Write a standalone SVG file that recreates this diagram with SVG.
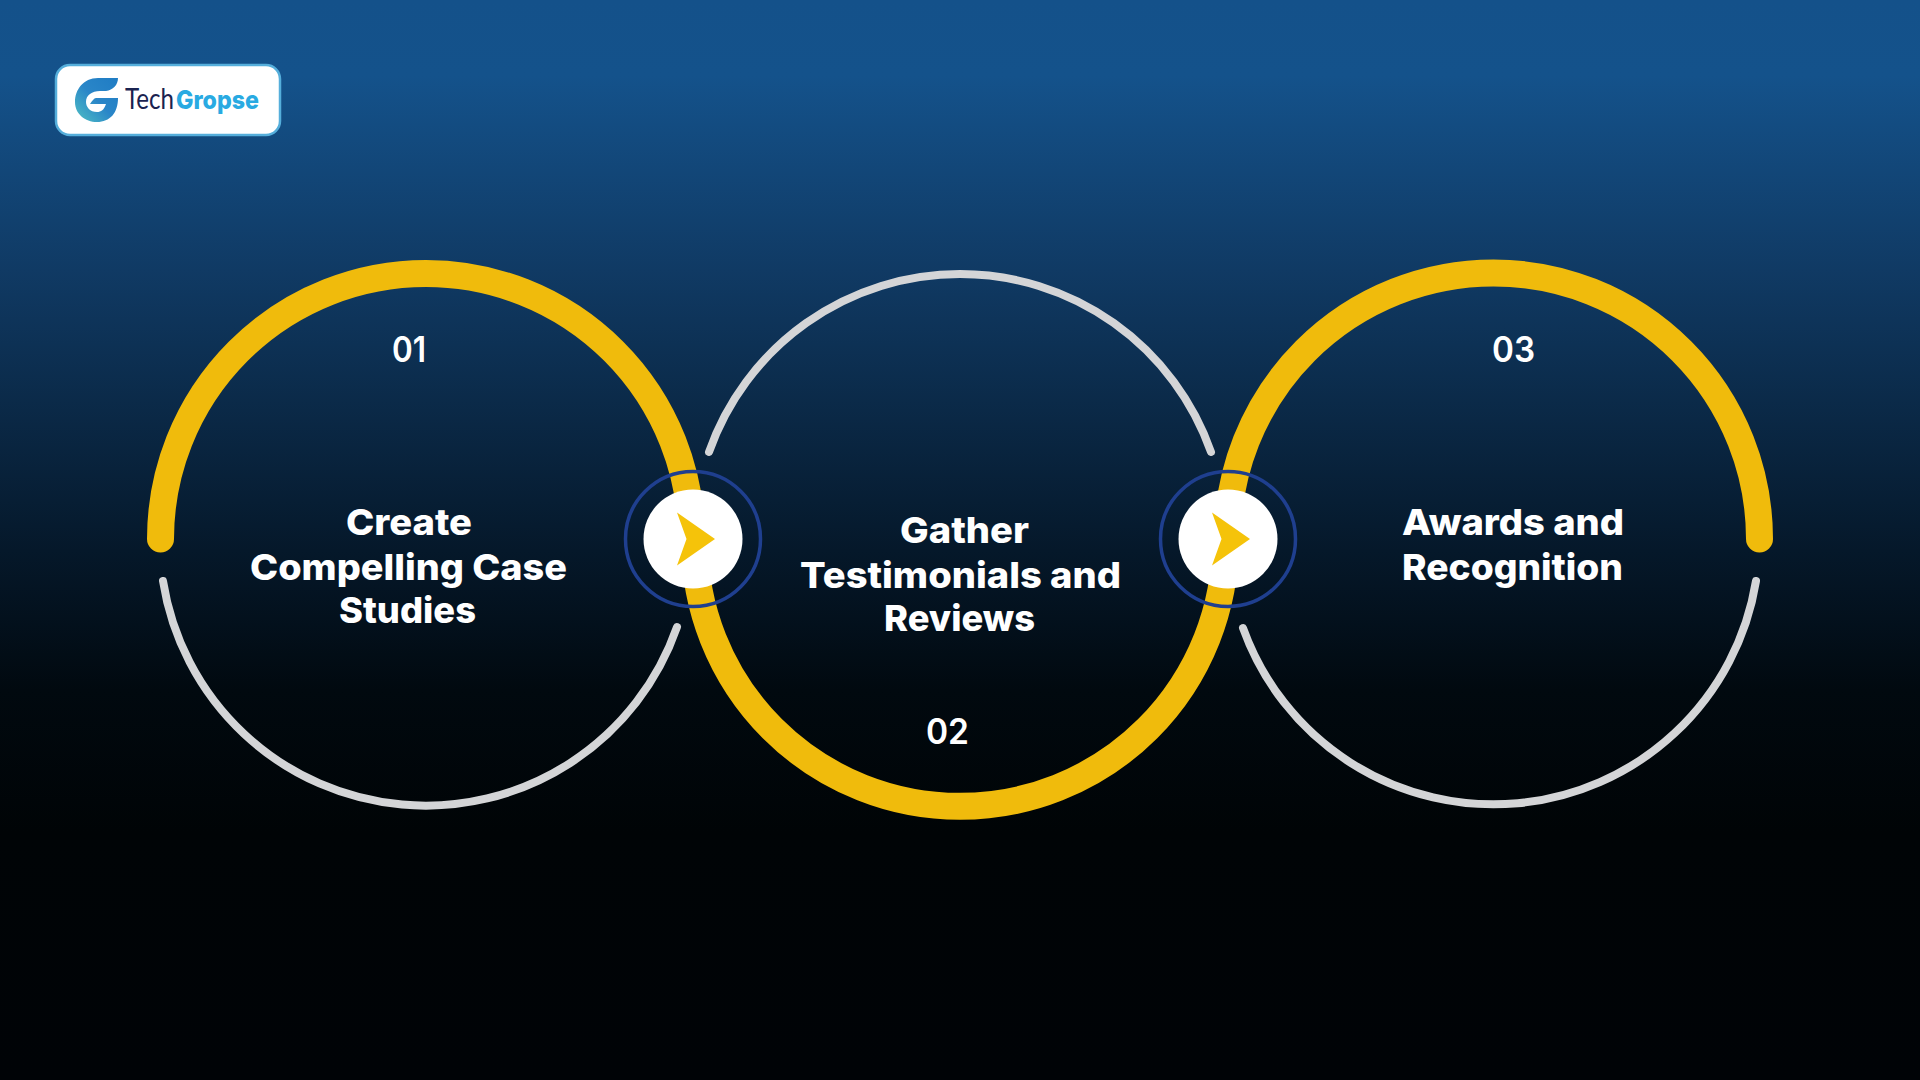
<svg xmlns="http://www.w3.org/2000/svg" width="1920" height="1080" viewBox="0 0 1920 1080">
<style>
.y{fill:none;stroke:#f0bb0c;stroke-width:27;stroke-linecap:round}
.g{fill:none;stroke:#d4d5d7;stroke-width:8;stroke-linecap:round}
.t{font-family:Inter,"Liberation Sans",sans-serif;font-weight:800;font-size:36px;fill:#fff}
.n{font-family:Inter,"Liberation Sans",sans-serif;font-weight:600;font-size:35px;fill:#fff}
.ring{fill:none;stroke:#1f3f8f;stroke-width:3.5}
</style>
<defs>
<linearGradient id="bg" x1="0" y1="0" x2="0" y2="1"><stop offset="0" stop-color="#14518a"/><stop offset=".07" stop-color="#14528b"/><stop offset=".25" stop-color="#103a64"/><stop offset=".51" stop-color="#05182a"/><stop offset=".64" stop-color="#01090f"/><stop offset=".77" stop-color="#000406"/><stop offset="1" stop-color="#000306"/></linearGradient>
<linearGradient id="lg" x1="0" y1="1" x2="1" y2="0"><stop offset="0" stop-color="#4fc0c4"/><stop offset=".5" stop-color="#2a86c8"/><stop offset="1" stop-color="#1f7cc4"/></linearGradient>
<path id="chev" d="M-16-26.500L22 0L-16 26.500L-6.500 0Z" fill="#f5c30a"/>
</defs>
<rect width="1920" height="1080" fill="url(#bg)"/>
<g id="logo">
<rect x="56" y="65" width="224" height="70" rx="14" fill="#fff" stroke="#55aedb" stroke-width="2.5"/>
<path d="M118 78H98C83 78 75 90 75 102C75 114 85 122 97 122C110 122 118 113 118 98H96C94 98 92 101 90 104H106C104 110 101 112 97 112C90 112 86 107 86 102C86 95 92 91 100 91H106C113 90 118 85 118 78Z" fill="url(#lg)"/>
<text x="125" y="109" font-family="Lato,sans-serif" font-weight="400" font-size="28" fill="#1a2350" textLength="49" lengthAdjust="spacingAndGlyphs">Tech</text>
<text x="176" y="109" font-family="Inter,sans-serif" font-weight="800" font-size="26" fill="#29aae2" textLength="83" lengthAdjust="spacingAndGlyphs">Gropse</text>
</g>
<g id="connectors">
<path class="y" d="M160.500 539A265.500 265.500 0 0 1 691.500 539"/>
<path class="y" d="M694.500 541A265.500 265.500 0 0 0 1225.500 541"/>
<path class="y" d="M1227.500 539A266 266 0 0 1 1759.500 539"/>
<path class="g" d="M163 581A266 266 0 0 0 677 627"/>
<path class="g" d="M709 452A266 266 0 0 1 1211 452"/>
<path class="g" d="M1243 628A266 266 0 0 0 1756 581"/>
</g>
<g id="node-arrow-1"><circle cx="693" cy="539" r="67.500" class="ring"/><circle cx="693" cy="539" r="49.500" fill="#fff"/><use href="#chev" x="693" y="539"/></g>
<g id="node-arrow-2"><circle cx="1228" cy="539" r="67.500" class="ring"/><circle cx="1228" cy="539" r="49.500" fill="#fff"/><use href="#chev" x="1228" y="539"/></g>
<g id="node-1">
<text class="n" x="392" y="362" textLength="34" lengthAdjust="spacingAndGlyphs">01</text>
<text class="t" x="346" y="535" textLength="126" lengthAdjust="spacingAndGlyphs">Create</text>
<text class="t" x="250" y="580" textLength="317" lengthAdjust="spacingAndGlyphs">Compelling Case</text>
<text class="t" x="339" y="623" textLength="137" lengthAdjust="spacingAndGlyphs">Studies</text>
</g>
<g id="node-2">
<text class="t" x="900" y="543" textLength="129" lengthAdjust="spacingAndGlyphs">Gather</text>
<text class="t" x="800" y="588" textLength="321" lengthAdjust="spacingAndGlyphs">Testimonials and</text>
<text class="t" x="884" y="631" textLength="151" lengthAdjust="spacingAndGlyphs">Reviews</text>
<text class="n" x="926" y="744" textLength="43" lengthAdjust="spacingAndGlyphs">02</text>
</g>
<g id="node-3">
<text class="n" x="1492" y="362" textLength="43" lengthAdjust="spacingAndGlyphs">03</text>
<text class="t" x="1402" y="535" textLength="222" lengthAdjust="spacingAndGlyphs">Awards and</text>
<text class="t" x="1402" y="580" textLength="221" lengthAdjust="spacingAndGlyphs">Recognition</text>
</g>
</svg>
